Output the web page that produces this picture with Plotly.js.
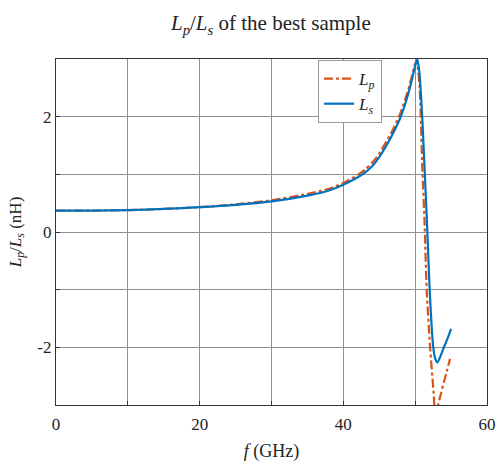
<!DOCTYPE html>
<html>
<head>
<meta charset="utf-8">
<script src="https://cdn.plot.ly/plotly-3.0.1.min.js"></script>
<style>html,body{margin:0;padding:0;background:#fff;}#chart{width:497px;height:462px;}</style>
</head>
<body>
<div id="chart"></div>
<script>
// Frequency samples (GHz) and inductances (nH)
const fLs = [0, 5, 10, 15, 20, 25, 30, 35, 38, 40, 42, 43, 44, 45, 46, 47, 48, 49, 49.5, 50, 50.3, 50.6, 50.98, 51.35, 51.7, 52.0, 52.5, 52.8, 53.1, 53.5, 54.0, 54.5, 55.0];
const Ls  = [0.37, 0.37, 0.38, 0.40, 0.43, 0.47, 0.53, 0.63, 0.72, 0.82, 0.95, 1.03, 1.14, 1.30, 1.50, 1.73, 2.00, 2.38, 2.62, 2.88, 3.00, 2.75, 2.00, 1.00, 0.00, -0.95, -1.98, -2.20, -2.26, -2.16, -2.00, -1.85, -1.68];
const fLp = [0, 5, 10, 15, 20, 25, 30, 35, 38, 40, 42, 43, 44, 45, 46, 47, 48, 49, 49.5, 50, 50.2, 50.6, 51.0, 51.3, 51.6, 52.07, 52.6, 52.85, 53.2, 53.6, 54.0, 54.4, 54.85];
const Lp  = [0.37, 0.37, 0.38, 0.40, 0.43, 0.48, 0.55, 0.66, 0.75, 0.85, 0.99, 1.08, 1.20, 1.36, 1.57, 1.80, 2.08, 2.45, 2.68, 2.92, 2.97, 2.55, 1.10, 0.20, -1.00, -1.98, -2.85, -3.35, -3.00, -2.80, -2.60, -2.42, -2.20];
const xTicks = [0, 20, 40, 60];
const xTickText = ['0', '20', '40', '60'];
const yTicks = [-2, 0, 2];
const yTickText = ['-2', '0', '2'];

const serif = 'Liberation Serif, Times New Roman, serif';
const traces = [
  {x: fLp, y: Lp, type: 'scatter', mode: 'lines', name: '<i>L<sub>p</sub></i>',
   line: {color: '#D95319', width: 2.2, dash: 'dashdot', shape: 'spline', smoothing: 0.6}},
  {x: fLs, y: Ls, type: 'scatter', mode: 'lines', name: '<i>L<sub>s</sub></i>',
   line: {color: '#0072BD', width: 2.2, shape: 'spline', smoothing: 0.6}}
];
const gridCol = '#8f8f8f';
const axisCommon = {
  showline: true, mirror: true, linecolor: '#333', linewidth: 1.2,
  showgrid: true, gridcolor: gridCol, gridwidth: 1, zeroline: false,
  ticks: 'inside', ticklen: 4, tickcolor: '#333',
  tickfont: {family: serif, size: 17, color: '#222'}
};
const layout = {
  width: 497, height: 462,
  margin: {l: 56, r: 10, t: 59, b: 57},
  paper_bgcolor: '#fff', plot_bgcolor: '#fff',
  title: {text: '<i>L<sub>p</sub></i>/<i>L<sub>s</sub></i> of the best sample',
          font: {family: serif, size: 21, color: '#222'}, x: 0.545, xanchor: 'center', y: 0.95, yanchor: 'middle'},
  xaxis: Object.assign({}, axisCommon, {range: [0, 60], tickmode: 'array', tickvals: xTicks, ticktext: xTickText,
    ticklabelstandoff: 3,
    minor: {dtick: 10, tick0: 0, showgrid: true, gridcolor: gridCol, gridwidth: 1, ticks: 'inside', ticklen: 4, tickcolor: '#333'},
    title: {text: '<i>f</i> (GHz)', font: {family: serif, size: 18, color: '#222'}, standoff: 12}}),
  yaxis: Object.assign({}, axisCommon, {range: [-3, 3], tickmode: 'array', tickvals: yTicks, ticktext: yTickText,
    minor: {dtick: 1, tick0: 0, showgrid: true, gridcolor: gridCol, gridwidth: 1, ticks: 'inside', ticklen: 4, tickcolor: '#333'},
    title: {text: '<i>L<sub>p</sub></i>/<i>L<sub>s</sub></i> (nH)', font: {family: serif, size: 17, color: '#222'}, standoff: 11}}),
  showlegend: true,
  legend: {x: 0.608, xanchor: 'left', y: 0.997, yanchor: 'top', bgcolor: '#fff', bordercolor: '#999', borderwidth: 1,
    font: {family: serif, size: 17, color: '#222'}, tracegroupgap: 0, itemwidth: 30}
};
Plotly.newPlot('chart', traces, layout, {displayModeBar: false, staticPlot: true});
</script>
</body>
</html>
